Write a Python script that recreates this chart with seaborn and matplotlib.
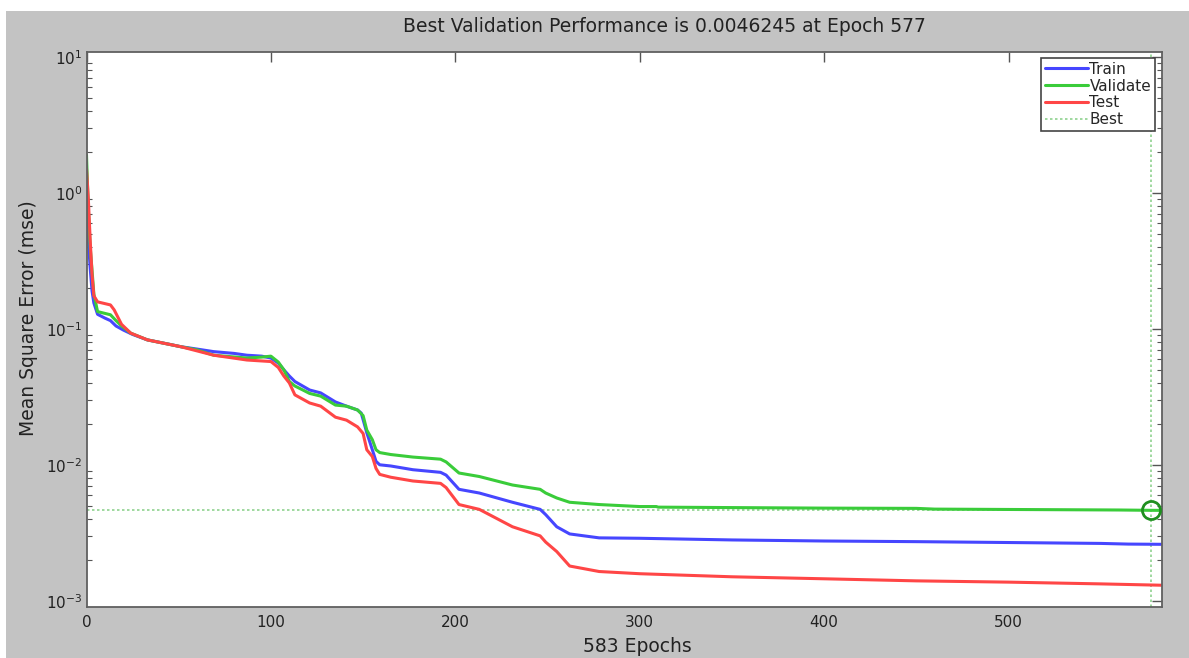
import matplotlib
matplotlib.use("Agg")
import matplotlib.pyplot as plt
import seaborn as sns
import pandas as pd
import numpy as np
from matplotlib.patches import Rectangle
from matplotlib.lines import Line2D

# ---- data ----
train_epochs = [0, 1, 2, 3, 4, 6, 10, 13, 16, 20, 25, 33, 45, 51, 60, 69, 80, 87, 95, 100,
                104, 107, 110, 113, 121, 127, 135, 141, 147, 149, 152, 155, 157, 159, 165,
                177, 192, 195, 202, 213, 231, 246, 249, 255, 262, 278, 300, 350, 400, 450,
                500, 550, 565, 583]
train_mse = [0.75, 0.45, 0.28, 0.19, 0.155, 0.128, 0.12, 0.115, 0.105, 0.098, 0.091, 0.083,
             0.077, 0.074, 0.071, 0.068, 0.066, 0.064, 0.063, 0.061, 0.056, 0.050, 0.045,
             0.041, 0.0355, 0.0338, 0.029, 0.027, 0.0253, 0.024, 0.0172, 0.0129, 0.0106,
             0.0100, 0.0098, 0.0092, 0.0088, 0.0084, 0.0066, 0.0062, 0.0053, 0.0047, 0.0043,
             0.0035, 0.0031, 0.0029, 0.00288, 0.00280, 0.00275, 0.00272, 0.00268, 0.00264,
             0.00261, 0.00260]

val_epochs = [0, 1, 2, 3, 4, 6, 13, 16, 19, 24, 33, 51, 60, 69, 87, 95, 100, 104, 107, 110,
              113, 121, 127, 135, 141, 147, 150, 152, 155, 157, 159, 165, 177, 192, 195, 202,
              213, 231, 246, 249, 255, 262, 278, 300, 309, 310, 400, 450, 460, 560, 577, 583]
val_mse = [1.9, 0.75, 0.40, 0.27, 0.18, 0.134, 0.127, 0.115, 0.105, 0.093, 0.083, 0.074,
           0.070, 0.064, 0.061, 0.062, 0.063, 0.057, 0.050, 0.041, 0.038, 0.0335, 0.032,
           0.0275, 0.027, 0.0253, 0.023, 0.018, 0.0153, 0.0129, 0.0123, 0.0119, 0.0114,
           0.011, 0.0105, 0.0087, 0.0082, 0.0071, 0.0066, 0.0062, 0.0057, 0.0053, 0.0051,
           0.00493, 0.00493, 0.00488, 0.0048, 0.00478, 0.00472, 0.00465, 0.0046245, 0.00462]

test_epochs = [0, 1, 2, 3, 4, 6, 13, 15, 19, 24, 33, 51, 69, 87, 100, 104, 107, 110, 113,
               121, 127, 135, 141, 147, 150, 152, 155, 157, 159, 165, 177, 192, 195, 202,
               213, 231, 246, 249, 255, 262, 278, 300, 350, 400, 450, 500, 550, 583]
test_mse = [1.5, 0.9, 0.45, 0.25, 0.175, 0.158, 0.15, 0.138, 0.108, 0.093, 0.083, 0.074,
            0.064, 0.059, 0.0575, 0.052, 0.045, 0.040, 0.0327, 0.0285, 0.027, 0.0224,
            0.0213, 0.019, 0.017, 0.0129, 0.0115, 0.0094, 0.0085, 0.0081, 0.0076, 0.0073,
            0.0068, 0.0051, 0.0047, 0.0035, 0.0030, 0.0027, 0.0023, 0.0018, 0.00164,
            0.00158, 0.00150, 0.00145, 0.00140, 0.00137, 0.00133, 0.00130]

best_epoch = 577
best_perf = 0.0046245
n_epochs = 583
x_ticks = [0, 100, 200, 300, 400, 500]
series_names = ["Train", "Validate", "Test"]
series_colors = ["#4646ff", "#3acc3a", "#ff4646"]

title_text = f"Best Validation Performance is {best_perf} at Epoch {best_epoch}"
xlabel_text = f"{n_epochs} Epochs"
ylabel_text = "Mean Square Error (mse)"

# ---- figure ----
sns.set_style("white")
plt.rcParams["font.family"] = ["DejaVu Sans"]

W, H = 1189, 658
fig = plt.figure(figsize=(W / 100, H / 100), dpi=100)
fig.patch.set_facecolor("white")
fig.add_artist(Rectangle((6 / W, 0), 1 - 6 / W, 1 - 11 / H, transform=fig.transFigure,
                         facecolor="#c3c3c3", edgecolor="none", zorder=-10))

ax = fig.add_axes([86.5 / W, (H - 606.7) / H, (1161.6 - 86.5) / W, (606.7 - 52) / H])
ax.set_facecolor("white")

frames = []
for name, ep, v in [("Train", train_epochs, train_mse),
                    ("Validate", val_epochs, val_mse),
                    ("Test", test_epochs, test_mse)]:
    frames.append(pd.DataFrame({"epoch": ep, "mse": v, "set": name}))
df = pd.concat(frames, ignore_index=True)

for name, col in zip(series_names, series_colors):
    sns.lineplot(data=df[df["set"] == name], x="epoch", y="mse", color=col, lw=2.2,
                 estimator=None, sort=False, ax=ax, label=name)

best_col = "#8fd28f"
ax.axhline(best_perf, color=best_col, ls=(0, (1.5, 1.5)), lw=1.2, zorder=1)
ax.axvline(best_epoch, color=best_col, ls=(0, (1.5, 1.5)), lw=1.2, zorder=1)
ax.plot([best_epoch], [best_perf], marker="o", ms=13, mfc="none", mec="#1f8f1f",
        mew=2.0, ls="none", zorder=5)

ax.set_yscale("log")
ax.set_xlim(0, n_epochs)
ax.set_ylim(10 ** -3.044, 10 ** 1.037)
ax.set_xticks(x_ticks)
ax.set_xticklabels([str(t) for t in x_ticks])
ax.set_yticks([1e-3, 1e-2, 1e-1, 1e0, 1e1])

ax.tick_params(axis="both", which="both", direction="in", top=True, right=True,
               color="#555555", labelsize=11, labelcolor="#222222")
ax.tick_params(axis="both", which="major", length=7, width=1)
ax.tick_params(axis="y", which="minor", length=3.5, width=0.8, left=True, right=True)
ax.tick_params(axis="x", which="major", pad=6)
ax.tick_params(axis="y", which="major", pad=3)
for s in ax.spines.values():
    s.set_color("#606060")
    s.set_linewidth(1.3)
    s.set_visible(True)

ax.set_xlabel("")
ax.set_ylabel("")
fig.text(664 / W, 1 - 27 / H, title_text, ha="center", va="center", fontsize=13.5,
         color="#222222")
fig.text(637 / W, 1 - 646 / H, xlabel_text, ha="center", va="center", fontsize=13.5,
         color="#222222")
fig.text(28 / W, 1 - 318 / H, ylabel_text, ha="center", va="center", rotation=90,
         fontsize=13.5, color="#222222")

handles = [Line2D([], [], color=c, lw=2.2) for c in series_colors]
handles.append(Line2D([], [], color=best_col, ls=(0, (1.5, 1.5)), lw=1.2))
leg = ax.legend(handles, series_names + ["Best"], loc="upper right",
                bbox_to_anchor=((1155 - 86.5) / 1075.1, 1 - (58 - 52) / 554.7),
                fontsize=11, frameon=True, fancybox=False, framealpha=1,
                edgecolor="#444444", handlelength=2.8, handletextpad=0.1,
                labelspacing=0.12, borderpad=0.25, borderaxespad=0)
leg.get_frame().set_linewidth(1.2)

fig.savefig("out.png", dpi=100)
